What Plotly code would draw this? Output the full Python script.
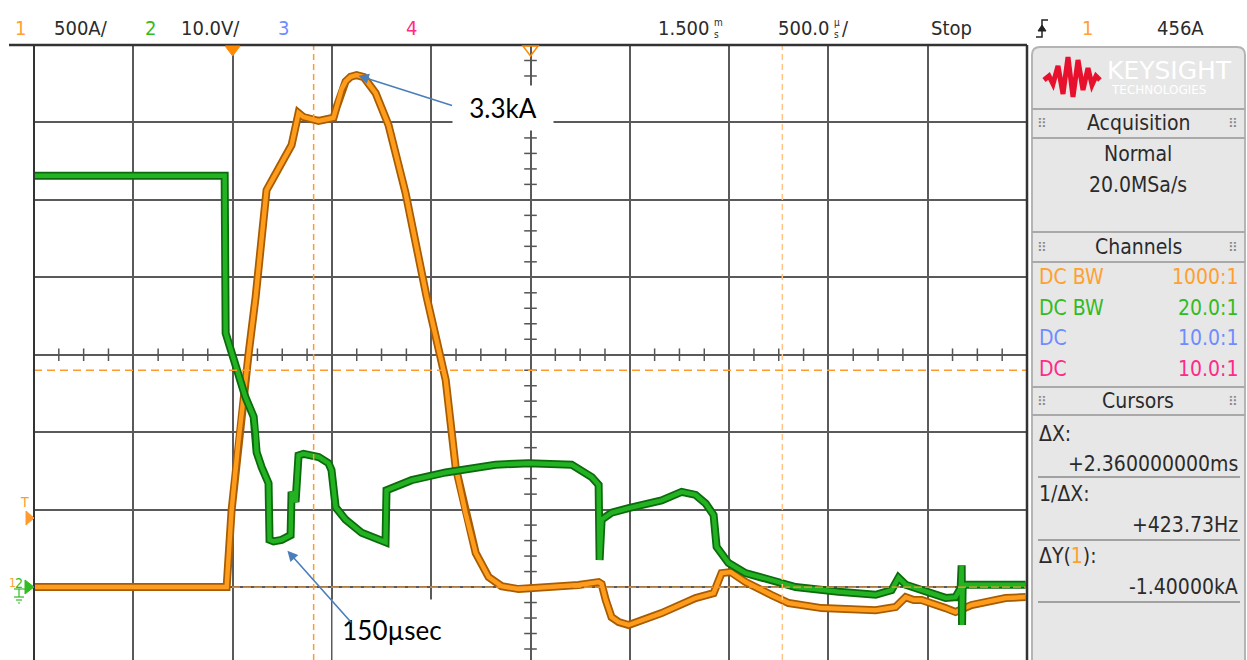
import plotly.graph_objects as go

# ---------------- data ----------------
# Channel 1: current (A) vs time (ms, trigger at 0)
ch1_t = [-1.0, -0.030, -0.005, 0.030, 0.081, 0.116, 0.171, 0.191, 0.297, 0.332, 0.357,
         0.433, 0.508, 0.524, 0.549, 0.569, 0.594, 0.624, 0.660, 0.720, 0.785, 0.871,
         0.977, 1.073, 1.123, 1.173, 1.224, 1.289, 1.354, 1.440, 1.541, 1.742, 1.843,
         1.858, 1.879, 1.908, 1.944, 1.994, 2.160, 2.331, 2.422, 2.462, 2.508, 2.583,
         2.714, 2.800, 2.966, 3.238, 3.338, 3.389, 3.430, 3.469, 3.590, 3.640, 3.721,
         3.892, 3.993]
ch1_amps = [0, 0, 497, 949, 1511, 1873, 2563, 2609, 2854, 3061, 3035,
            3010, 3030, 3100, 3215, 3265, 3295, 3306, 3293, 3190, 2983, 2544,
            1873, 1337, 775, 478, 220, 65, 6, -13, -6, 13, 32,
            20, -84, -194, -226, -245, -168, -71, -39, 90, 97, 32,
            -52, -103, -136, -149, -129, -65, -84, -84, -136, -161, -116,
            -71, -65]

# Channel 2: voltage (V) vs time (ms)
ch2_t = [-1.0, -0.040, -0.035, -0.020, 0.005, 0.065, 0.106, 0.116, 0.121, 0.146, 0.181,
         0.186, 0.206, 0.247, 0.292, 0.297, 0.317, 0.332, 0.357, 0.433, 0.483, 0.498,
         0.519, 0.569, 0.650, 0.770, 0.775, 0.901, 1.073, 1.324, 1.490, 1.707, 1.808,
         1.843, 1.848, 1.858, 1.908, 1.994, 2.160, 2.261, 2.331, 2.382, 2.422, 2.437,
         2.497, 2.583, 2.714, 2.835, 3.051, 3.238, 3.318, 3.353, 3.389, 3.469, 3.590,
         3.640, 3.666, 3.671, 3.673, 3.676, 3.721, 3.993]
ch2_volts = [53.1, 53.1, 32.8, 31.5, 29.3, 24.5, 22.0, 19.9, 17.4, 15.5, 13.4,
             6.1, 5.9, 6.1, 6.7, 12.3, 11.0, 17.0, 17.2, 16.8, 16.0, 15.1,
             10.3, 8.7, 7.0, 5.8, 12.5, 13.8, 14.8, 15.8, 16.0, 15.8, 14.2,
             13.2, 3.5, 8.7, 9.6, 10.2, 11.2, 12.3, 11.9, 10.8, 9.3, 5.2,
             3.1, 1.8, 0.9, 0.0, -0.6, -1.0, -0.4, 1.2, 0.3, -0.4, -1.4,
             -1.3, -0.1, 2.8, -4.9, 0.3, 0.3, 0.3]

# cursor values
cursor_x = [0.408, 2.768]      # ms  (delta X = 2.36 ms)
cursor_y = [1400, 0]           # A   (delta Y = -1.4 kA)
trigger_t = 0.0
center_t = 1.5
peak_t, peak_a = 0.624, 3306
dip_t, dip_v = 0.276, 4.7

# labels
channel_rows = [("DC BW", "1000:1", "#ffa030"), ("DC BW", "20.0:1", "#33bb22"),
                ("DC", "10.0:1", "#6f8cff"), ("DC", "10.0:1", "#ff2a8a")]
peak_label = "3.3kA"
width_label = "150µsec"

# ---------------- geometry ----------------
W, H = 1247, 660
L, R, T, B = 34, 1027, 45, 660
x_range = [-1.0, 4.0]
y1_range = [-471, 3500]
y2_range = [-9.42, 70]

def px(x):
    return (x - L) / (R - L)

def py(y):
    return (B - y) / (B - T)

FONT = "Liberation Sans Narrow, DejaVu Sans Condensed, Arial Narrow, sans-serif"
TXT = "#2b2b2b"

fig = go.Figure()

# traces: dark edge + bright core
fig.add_trace(go.Scatter(x=ch1_t, y=ch1_amps, mode="lines", line=dict(color="#a85c00", width=8),
                         hoverinfo="skip", showlegend=False))
fig.add_trace(go.Scatter(x=ch1_t, y=ch1_amps, mode="lines", line=dict(color="#ff9c1c", width=4.5),
                         hoverinfo="skip", showlegend=False))
fig.add_trace(go.Scatter(x=ch2_t, y=ch2_volts, mode="lines", line=dict(color="#0c6a0c", width=8),
                         yaxis="y2", hoverinfo="skip", showlegend=False))
fig.add_trace(go.Scatter(x=ch2_t, y=ch2_volts, mode="lines", line=dict(color="#22b222", width=4.5),
                         yaxis="y2", hoverinfo="skip", showlegend=False))

# minor ticks on the centre axes
xdiv = (x_range[1] - x_range[0]) / 10
ydiv = 500
hx = [x_range[0] + i * xdiv / 4 for i in range(41) if i % 4 != 0]
vy = [-500 + i * ydiv / 5 for i in range(41) if i % 5 != 0]
vy = [v for v in vy if y1_range[0] < v < y1_range[1]]
fig.add_trace(go.Scatter(x=hx, y=[1500] * len(hx), mode="markers",
                         marker=dict(symbol="line-ns", size=9, line=dict(color="#555", width=1.5)),
                         hoverinfo="skip", showlegend=False))
fig.add_trace(go.Scatter(x=[center_t] * len(vy), y=vy, mode="markers",
                         marker=dict(symbol="line-ew", size=9, line=dict(color="#555", width=1.5)),
                         hoverinfo="skip", showlegend=False))

shapes = []
# cursors
shapes.append(dict(type="line", xref="x", yref="paper", x0=cursor_x[0], x1=cursor_x[0], y0=0, y1=1,
                   line=dict(color="#ff9a2e", width=1.5, dash="6px,4px"), layer="above"))
shapes.append(dict(type="line", xref="x", yref="paper", x0=cursor_x[1], x1=cursor_x[1], y0=0, y1=1,
                   line=dict(color="#ffc488", width=1.5, dash="6px,4px"), layer="above"))
shapes.append(dict(type="line", xref="paper", yref="y", x0=0, x1=1, y0=cursor_y[0], y1=cursor_y[0],
                   line=dict(color="#ff9a2e", width=1.5, dash="8px,5px"), layer="above"))
shapes.append(dict(type="line", xref="paper", yref="y", x0=0, x1=1, y0=cursor_y[1], y1=cursor_y[1],
                   line=dict(color="#ff9a2e", width=1.2, dash="8px,3px"), layer="above"))
# borders
shapes.append(dict(type="line", xref="paper", yref="paper", x0=px(9), x1=1, y0=1, y1=1,
                   line=dict(color="#333", width=2.5)))
shapes.append(dict(type="line", xref="paper", yref="paper", x0=1, x1=1, y0=0, y1=1,
                   line=dict(color="#333", width=2.5)))
shapes.append(dict(type="line", xref="paper", yref="paper", x0=0, x1=0, y0=0, y1=1,
                   line=dict(color="#333", width=2)))

# trigger markers on top edge
def tri_down(xc, yc, w, h):
    return f"M {px(xc - w / 2)} {py(yc)} L {px(xc + w / 2)} {py(yc)} L {px(xc)} {py(yc + h)} Z"

xt_trig = L + (trigger_t - x_range[0]) / (x_range[1] - x_range[0]) * (R - L)
xt_ctr = L + (center_t - x_range[0]) / (x_range[1] - x_range[0]) * (R - L)
shapes.append(dict(type="path", xref="paper", yref="paper", path=tri_down(xt_trig, 46, 15, 10),
                   fillcolor="#ff8a00", line=dict(color="#ff8a00", width=1)))
shapes.append(dict(type="path", xref="paper", yref="paper", path=tri_down(xt_ctr, 46, 15, 10),
                   fillcolor="rgba(0,0,0,0)", line=dict(color="#ff8a00", width=1.5)))

# left edge markers: trigger level and ground
def tri_right(xl, yc, w, h):
    return f"M {px(xl)} {py(yc - h / 2)} L {px(xl + w)} {py(yc)} L {px(xl)} {py(yc + h / 2)} Z"

shapes.append(dict(type="path", xref="paper", yref="paper", path=tri_right(26, 518, 8, 14),
                   fillcolor="#ff9a2e", line=dict(color="#ff9a2e", width=1)))
shapes.append(dict(type="path", xref="paper", yref="paper", path=tri_right(25, 587, 9, 14),
                   fillcolor="#33bb22", line=dict(color="#33bb22", width=1)))
for (x0, x1, yy) in [(14, 25, 589), (14, 24, 597), (16, 22, 600), (18, 20, 603)]:
    shapes.append(dict(type="line", xref="paper", yref="paper", x0=px(x0), x1=px(x1), y0=py(yy), y1=py(yy),
                       line=dict(color="#33bb22", width=1.2)))
shapes.append(dict(type="line", xref="paper", yref="paper", x0=px(19), x1=px(19), y0=py(589), y1=py(597),
                   line=dict(color="#33bb22", width=1.2)))

# ---------------- right panel ----------------
PL, PR, PT = 1032, 1245, 47
rad = 8
panel_path = (f"M {px(PL)} {py(662)} L {px(PL)} {py(PT + rad)} "
              f"Q {px(PL)} {py(PT)} {px(PL + rad)} {py(PT)} "
              f"L {px(PR - rad)} {py(PT)} Q {px(PR)} {py(PT)} {px(PR)} {py(PT + rad)} "
              f"L {px(PR)} {py(662)} Z")
shapes.append(dict(type="path", xref="paper", yref="paper", path=panel_path,
                   fillcolor="#e7e7e7", line=dict(color="#b4b4b4", width=2)))
for yy in [109, 138, 232, 262, 387, 415]:
    shapes.append(dict(type="line", xref="paper", yref="paper", x0=px(PL), x1=px(PR), y0=py(yy), y1=py(yy),
                       line=dict(color="#a9a9a9", width=2)))
for yy in [477, 540, 602]:
    shapes.append(dict(type="line", xref="paper", yref="paper", x0=px(1038), x1=px(1240), y0=py(yy), y1=py(yy),
                       line=dict(color="#8a8a8a", width=1.5)))

# logo waveform
logo_pts = [(1044, 80), (1049, 76), (1053, 84), (1058, 66), (1063, 94), (1068, 57), (1073, 97),
            (1078, 60), (1083, 90), (1088, 68), (1092, 85), (1096, 76), (1100, 80)]
logo_path = "M " + " L ".join(f"{px(a)} {py(b)}" for a, b in logo_pts)
shapes.append(dict(type="path", xref="paper", yref="paper", path=logo_path,
                   line=dict(color="#e8112d", width=5)))

# trigger slope symbol
shapes.append(dict(type="path", xref="paper", yref="paper",
                   path=f"M {px(1036)} {py(37)} L {px(1042)} {py(37)} L {px(1042)} {py(20)} L {px(1048)} {py(20)}",
                   line=dict(color="#222", width=1.5)))
shapes.append(dict(type="path", xref="paper", yref="paper",
                   path=f"M {px(1038)} {py(31)} L {px(1042)} {py(25)} L {px(1046)} {py(31)} Z",
                   fillcolor="#222", line=dict(color="#222", width=1)))

ann = []

def text(x, y, s, size=21, color=TXT, anchor="left", font=FONT, **kw):
    ann.append(dict(x=px(x), y=py(y), xref="paper", yref="paper", text=s, showarrow=False,
                    xanchor=anchor, yanchor="middle", font=dict(family=font, size=size, color=color), **kw))

# top bar
TB = 20
text(13, 28, "1", size=TB, color="#ffa033")
text(52, 28, "500A/", size=TB)
text(143, 28, "2", size=TB, color="#33bb22")
text(179, 28, "10.0V/", size=TB)
text(276, 28, "3", size=TB, color="#6f8cff")
text(404, 28, "4", size=TB, color="#ff2a8a")
text(712, 28, "1.500", size=TB, anchor="right")
text(712, 22, "m", size=10)
text(712, 34, "s", size=10)
text(832, 28, "500.0", size=TB, anchor="right")
text(832, 22, "µ", size=10)
text(832, 34, "s", size=10)
text(840, 28, "/", size=TB)
text(929, 28, "Stop", size=TB)
text(1080, 28, "1", size=TB, color="#ffa033")
text(1206, 28, "456A", size=TB, anchor="right")

# left markers text
text(18, 502, "T", size=14, color="#ff9a2e")
text(7, 583, "1", size=12, color="#ffa033")
text(13, 583, "2", size=14, color="#33bb22")

# panel text
text(1105, 70, "KEYSIGHT", size=25, color="#ffffff", font="DejaVu Sans, sans-serif")
text(1109, 90, "TECHNOLOGIES", size=12, color="#ffffff", font="DejaVu Sans, sans-serif")
for yy in [123, 247, 401]:
    text(1042, yy, "⠿", size=13, color="#888", anchor="center", font="DejaVu Sans")
    text(1233, yy, "⠿", size=13, color="#888", anchor="center", font="DejaVu Sans")
text(1138, 123, "Acquisition", anchor="center")
text(1138, 154, "Normal", anchor="center")
text(1138, 185, "20.0MSa/s", anchor="center")
text(1138, 247, "Channels", anchor="center")
for i, (c1, c2, col) in enumerate(channel_rows):
    yy = 277 + i * 30.7
    text(1037, yy, c1, color=col)
    text(1240, yy, c2, color=col, anchor="right")
text(1138, 401, "Cursors", anchor="center")
text(1037, 434, "ΔX:")
text(1240, 464, "+2.360000000ms", anchor="right")
text(1037, 494, "1/ΔX:")
text(1240, 525, "+423.73Hz", anchor="right")
text(1037, 556, "ΔY(<span style='color:#ffa030'>1</span>):")
text(1240, 587, "-1.40000kA", anchor="right")

# callouts
CAL = "Lato, Carlito, Open Sans, sans-serif"
ann.append(dict(x=px(503), y=py(108), xref="paper", yref="paper", text=peak_label, showarrow=False,
                xanchor="center", yanchor="middle", font=dict(family=CAL, size=26, color="#000"),
                bgcolor="#ffffff", borderpad=0, width=100, height=44))
ann.append(dict(x=px(392), y=py(630), xref="paper", yref="paper", text=width_label, showarrow=False,
                xanchor="center", yanchor="middle", font=dict(family=CAL, size=26, color="#000"),
                bgcolor="#ffffff", borderpad=0, width=118, height=60))
ann.append(dict(x=peak_t, y=peak_a, xref="x", yref="y", ax=97, ay=31, axref="pixel", ayref="pixel",
                text="", showarrow=True, arrowhead=2, arrowsize=1.3, arrowwidth=1.6, arrowcolor="#4a7ebb",
                standoff=2))
ann.append(dict(x=dip_t, y=dip_v, xref="x", yref="y2", ax=65, ay=73, axref="pixel", ayref="pixel",
                text="", showarrow=True, arrowhead=2, arrowsize=1.3, arrowwidth=1.6, arrowcolor="#4a7ebb"))

fig.update_layout(
    width=W, height=H,
    margin=dict(l=L, r=W - R, t=T, b=H - B),
    paper_bgcolor="#ffffff", plot_bgcolor="#ffffff",
    xaxis=dict(range=x_range, dtick=xdiv, tick0=x_range[0], showgrid=True, gridcolor="#5a5a5a", gridwidth=1.6,
               showticklabels=False, zeroline=False, ticks="", fixedrange=True),
    yaxis=dict(range=y1_range, dtick=ydiv, tick0=0, showgrid=True, gridcolor="#5a5a5a", gridwidth=1.6,
               showticklabels=False, zeroline=False, ticks="", fixedrange=True),
    yaxis2=dict(range=y2_range, overlaying="y", showgrid=False, showticklabels=False, zeroline=False,
                ticks="", fixedrange=True),
    shapes=shapes, annotations=ann, showlegend=False,
)

fig.write_html("out.html", config={"displayModeBar": False},
               post_script="document.body.style.margin='0';document.body.style.overflow='hidden';")
